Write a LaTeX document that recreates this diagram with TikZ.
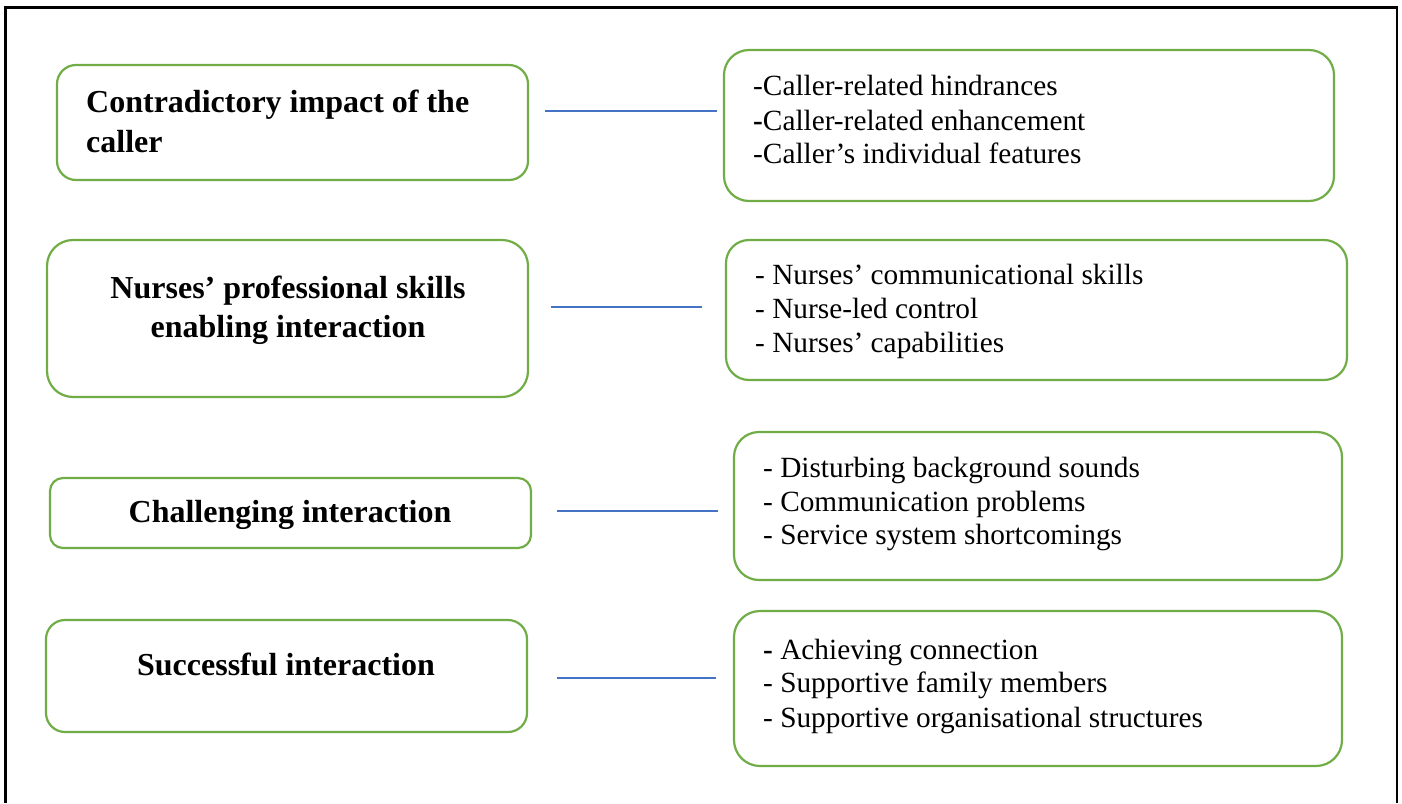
\documentclass[tikz,border=0pt]{standalone}
\usepackage{fontspec}
\setmainfont{Liberation Serif}
\definecolor{boxgreen}{HTML}{70AD47}
\definecolor{linkblue}{HTML}{4472C4}
% rounded green box: name, x1, y1, x2, y2, corner radius
\newcommand\grbox[6]{%
  \node[box, rounded corners=#6pt,
        minimum width={(#4-#2)*1pt}, minimum height={(#5-#3)*1pt}]
        (#1) at ({(#2+#4)/2},{(#3+#5)/2}) {};}
\begin{document}
\begin{tikzpicture}[x=1pt,y=-1pt,
  box/.style={draw=boxgreen, line width=2.2pt, fill=white, inner sep=0pt, outer sep=0pt},
  link/.style={draw=linkblue, line width=1.3pt},
  head/.style={inner sep=0pt, anchor=base, font=\fontsize{32}{38}\selectfont\bfseries},
  headl/.style={head, anchor=base west},
  item/.style={inner sep=0pt, anchor=base west, font=\fontsize{29.3}{34}\selectfont},
  frame/.style={draw=black, line width=2.2pt}]
\useasboundingbox (0,0) rectangle (1402,803);

% page frame (open at the bottom)
\draw[frame] (5.5,803) -- (5.5,7.5) -- (1396.7,7.5) -- (1396.7,803);

% theme boxes (left) and sub-theme boxes (right)
\grbox{L1}{57}{65}{528}{180}{19}
\grbox{R1}{724}{50}{1334}{201}{25}
\grbox{L2}{47}{240}{528}{397}{26}
\grbox{R2}{726}{240}{1347}{380}{23}
\grbox{L3}{50}{478}{531}{548}{13}
\grbox{R3}{734}{432}{1342}{580}{25}
\grbox{L4}{46}{620}{527}{732}{19}
\grbox{R4}{734}{611}{1342}{766}{26}

% theme titles
\node[headl] (t1a) at (86,112) {Contradictory impact of the};
\node[headl] (t1b) at (86,152) {caller};
\node[head] (t2a) at (288,298) {Nurses’ professional skills};
\node[head] (t2b) at (288,337) {enabling interaction};
\node[head] (t3) at (290,522) {Challenging interaction};
\node[head] (t4) at (286,675) {Successful interaction};

% sub-theme lists
\node[item] (s1a) at (753,95)  {-Caller-related hindrances};
\node[item] (s1b) at (753,130) {\textbf{-}Caller-related enhancement};
\node[item] (s1c) at (753,163) {-Caller’s individual features};

\node[item] (s2a) at (755,284) {- Nurses’ communicational skills};
\node[item] (s2b) at (755,318) {- Nurse-led control};
\node[item] (s2c) at (755,352) {- Nurses’ capabilities};

\node[item] (s3a) at (763,477) {- Disturbing background sounds};
\node[item] (s3b) at (763,511) {- Communication problems};
\node[item] (s3c) at (763,544) {- Service system shortcomings};

\node[item] (s4a) at (763,659) {\textbf{-} Achieving connection};
\node[item] (s4b) at (763,692) {- Supportive family members};
\node[item] (s4c) at (763,727) {- Supportive organisational structures};

% connectors between each theme and its sub-themes
\coordinate (c1a) at (545,111); \coordinate (c1b) at (717,111);
\coordinate (c2a) at (551,307); \coordinate (c2b) at (702,307);
\coordinate (c3a) at (557,511); \coordinate (c3b) at (718,511);
\coordinate (c4a) at (557,678); \coordinate (c4b) at (716,678);
\draw[link] (c1a) -- (c1b);
\draw[link] (c2a) -- (c2b);
\draw[link] (c3a) -- (c3b);
\draw[link] (c4a) -- (c4b);
\end{tikzpicture}
\end{document}
